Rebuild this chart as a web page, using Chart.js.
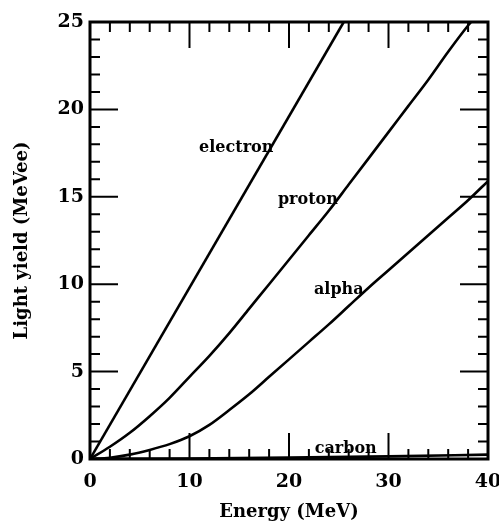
<!DOCTYPE html>
<html>
<head>
<meta charset="utf-8">
<script src="https://cdn.jsdelivr.net/npm/chart.js@4.4.1/dist/chart.umd.min.js"></script>
<style>
  html, body { margin: 0; padding: 0; background: #fff; }
  #wrap { width: 499px; height: 532px; }
</style>
</head>
<body>
<div id="wrap"><canvas id="lightChart"></canvas></div>
<script>
// 読み取った値 (Energy MeV -> Light yield MeVee)
const electronE = [0, 25.5];
const electronY = [0, 25];

const protonE = [0, 2, 4, 6, 8, 10, 12, 14, 16, 18, 20, 22, 24, 26, 28, 30, 32, 34, 36, 38, 38.3];
const protonY = [0, 0.7, 1.5, 2.45, 3.5, 4.7, 5.9, 7.2, 8.6, 10.0, 11.4, 12.8, 14.2, 15.7, 17.2, 18.7, 20.2, 21.7, 23.3, 24.8, 25];

const alphaE = [0, 2, 4, 6, 8, 10, 12, 14, 16, 18, 20, 22, 24, 26, 28, 30, 32, 34, 36, 38, 40];
const alphaY = [0, 0.07, 0.25, 0.52, 0.85, 1.3, 1.95, 2.8, 3.7, 4.7, 5.7, 6.7, 7.7, 8.75, 9.8, 10.8, 11.8, 12.8, 13.8, 14.8, 15.9];

const carbonE = [0, 10, 20, 30, 40];
const carbonY = [0, 0.03, 0.08, 0.15, 0.25];

// 曲線ラベル (E, yield)
const curveLabels = ['electron', 'proton', 'alpha', 'carbon'];
const labelE = [14.7, 21.9, 25.0, 25.7];
const labelY = [17.8, 14.8, 9.7, 0.6];

const xTicks = [0, 10, 20, 30, 40];
const yTicks = [0, 5, 10, 15, 20, 25];

const SERIF = '"DejaVu Serif", "Liberation Serif", serif';

function toPoints(xs, ys) {
    return xs.map((x, i) => ({ x: x, y: ys[i] }));
}

function lineSet(label, xs, ys) {
    return {
        label: label,
        data: toPoints(xs, ys),
        borderColor: '#000',
        borderWidth: 2.6,
        pointRadius: 0,
        cubicInterpolationMode: 'monotone',
        fill: false
    };
}

// 内向きの目盛りと枠を描くプラグイン
const frameTicks = {
    id: 'frameTicks',
    afterDatasetsDraw(chart) {
        const ctx = chart.ctx;
        const a = chart.chartArea;
        const xs = chart.scales.x;
        const ys = chart.scales.y;
        ctx.save();
        ctx.strokeStyle = '#000';
        ctx.lineWidth = 2;
        ctx.beginPath();
        for (let v = 0; v <= 40; v += 2) {
            const px = xs.getPixelForValue(v);
            const len = v % 10 === 0 ? 26 : 10;
            ctx.moveTo(px, a.bottom); ctx.lineTo(px, a.bottom - len);
            ctx.moveTo(px, a.top); ctx.lineTo(px, a.top + len);
        }
        for (let v = 0; v <= 25; v += 1) {
            const py = ys.getPixelForValue(v);
            const len = v % 5 === 0 ? 28 : 10;
            ctx.moveTo(a.left, py); ctx.lineTo(a.left + len, py);
            ctx.moveTo(a.right, py); ctx.lineTo(a.right - len, py);
        }
        ctx.stroke();
        ctx.lineWidth = 3;
        ctx.strokeRect(a.left, a.top, a.right - a.left, a.bottom - a.top);

        // 曲線ラベル
        ctx.font = 'bold 16px ' + SERIF;
        ctx.textAlign = 'center';
        ctx.textBaseline = 'middle';
        curveLabels.forEach((t, i) => {
            const px = xs.getPixelForValue(labelE[i]);
            const py = ys.getPixelForValue(labelY[i]);
            ctx.fillStyle = '#000';
            ctx.fillText(t, px, py);
        });
        ctx.restore();
    }
};

const ctx = document.getElementById('lightChart').getContext('2d');
new Chart(ctx, {
    type: 'line',
    data: {
        datasets: [
            lineSet('electron', electronE, electronY),
            lineSet('proton', protonE, protonY),
            lineSet('alpha', alphaE, alphaY),
            lineSet('carbon', carbonE, carbonY)
        ]
    },
    options: {
        responsive: true,
        maintainAspectRatio: false,
        animation: false,
        layout: { padding: { top: 22, right: 11, left: 0, bottom: 0 } },
        plugins: {
            legend: { display: false },
            tooltip: { enabled: false }
        },
        scales: {
            x: {
                type: 'linear',
                min: 0,
                max: 40,
                afterFit(scale) {
                    scale.height = 73;
                    scale.paddingRight = 0;
                    scale.paddingLeft = 0;
                },
                afterBuildTicks(scale) { scale.ticks = xTicks.map(v => ({ value: v })); },
                grid: { display: false, drawTicks: false },
                border: { display: false },
                ticks: {
                    padding: 12,
                    color: '#000',
                    font: { family: SERIF, size: 19, weight: 'bold' }
                },
                title: {
                    display: true,
                    text: 'Energy (MeV)',
                    color: '#000',
                    font: { family: SERIF, size: 18, weight: 'bold' },
                    padding: { top: 4, bottom: 9 }
                }
            },
            y: {
                type: 'linear',
                min: 0,
                max: 25,
                afterFit(scale) { scale.width = 90; },
                afterBuildTicks(scale) { scale.ticks = yTicks.map(v => ({ value: v })); },
                grid: { display: false, drawTicks: false },
                border: { display: false },
                ticks: {
                    padding: 6,
                    color: '#000',
                    font: { family: SERIF, size: 19, weight: 'bold' }
                },
                title: {
                    display: true,
                    text: 'Light yield (MeVee)',
                    color: '#000',
                    font: { family: SERIF, size: 18, weight: 'bold' },
                    padding: { top: 12, bottom: 0 }
                }
            }
        }
    },
    plugins: [frameTicks]
});
</script>
</body>
</html>
